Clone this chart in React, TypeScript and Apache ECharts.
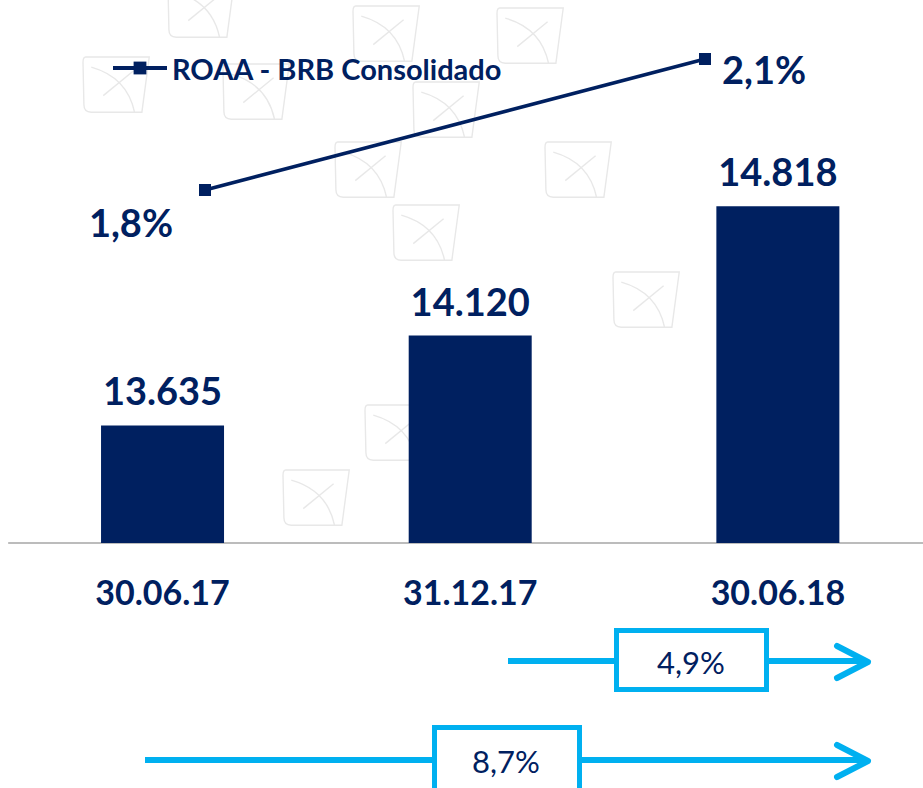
import React, { useEffect, useRef } from "react";
import * as echarts from "echarts";

const categories = ["30.06.17", "31.12.17", "30.06.18"];
const assetValues = [13635, 14120, 14818];
const roaaName = "ROAA - BRB Consolidado";
const roaaCategories = ["30.06.17", "30.06.18"];
const roaaValues = [1.8, 2.1];
const growthLabels = ["4,9%", "8,7%"];

const NAVY = "#002060";
const CYAN = "#00b0f0";

const LOGO_D =
  "M3 0 L72 0 L64 60 L9 60 Q1 60 1 52 L0 6 Q0 0 3 0 Z M9 11 Q48 22 56 60 M22 42 L55 15";

let logoRegistered = false;
function ensureLogo() {
  if (logoRegistered) return;
  echarts.graphic.registerShape("logo", echarts.graphic.extendPath(LOGO_D, {}) as any);
  logoRegistered = true;
}

const logoSpots: [number, number][] = [
  [168, -18],
  [353, 6],
  [497, 8],
  [83, 57],
  [223, 64],
  [413, 82],
  [335, 142],
  [545, 142],
  [393, 205],
  [613, 272],
  [365, 405],
  [283, 470],
];

const fmtThousands = (v: number) => String(v).replace(/\B(?=(\d{3})+(?!\d))/g, ".");
const fmtPct = (v: number) => v.toFixed(1).replace(".", ",") + "%";

export default function App() {
  const ref = useRef<HTMLDivElement>(null);

  useEffect(() => {
    if (!ref.current) return;
    ensureLogo();
    const chart = echarts.init(ref.current, undefined, { renderer: "svg" });

    const logos = logoSpots.map(([x, y]) => ({
      type: "logo",
      x,
      y,
      scaleX: 0.92,
      scaleY: 0.92,
      z: -10,
      silent: true,
      style: { fill: "none", stroke: "#e8e8e8", lineWidth: 1.5 },
    }));

    const arrow = (x1: number, x2: number, y: number) => [
      {
        type: "line",
        z: 5,
        shape: { x1, y1: y, x2, y2: y },
        style: { stroke: CYAN, lineWidth: 6 },
      },
      {
        type: "polyline",
        z: 5,
        shape: {
          points: [
            [x2 - 29, y - 15],
            [x2 + 2, y + 1],
            [x2 - 29, y + 17],
          ],
        },
        style: { stroke: CYAN, lineWidth: 6, lineCap: "round", lineJoin: "round", fill: "none" },
      },
    ];

    const box = (x: number, y: number, w: number, h: number, text: string, cx: number, cy: number) => [
      {
        type: "rect",
        z: 6,
        shape: { x, y, width: w, height: h },
        style: { fill: "#ffffff", stroke: CYAN, lineWidth: 5 },
      },
      {
        type: "text",
        z: 7,
        x: cx,
        y: cy,
        style: {
          text,
          fill: NAVY,
          font: "normal 31px Lato",
          align: "center",
          verticalAlign: "middle",
        },
      },
    ];

    chart.setOption({
      animation: false,
      backgroundColor: "#ffffff",
      textStyle: { fontFamily: "Lato" },
      legend: {
        data: [roaaName],
        left: 111,
        top: 53,
        padding: 0,
        itemWidth: 54,
        itemHeight: 16,
        itemGap: 0,
        lineStyle: { width: 4, color: NAVY },
        itemStyle: { color: NAVY },
        textStyle: {
          color: NAVY,
          fontSize: 29,
          fontWeight: "bold",
          fontFamily: "Lato",
          lineHeight: 30,
        },
      },
      grid: [
        {
          left: 8.7,
          width: 923,
          top: 43,
          bottom: 245,
          containLabel: false,
          outerBoundsMode: "none",
        },
        {
          left: 205,
          width: 500,
          top: 59,
          height: 131,
          containLabel: false,
          outerBoundsMode: "none",
        },
      ],
      xAxis: [
        {
          type: "category",
          gridIndex: 0,
          data: categories,
          axisLine: { show: true, lineStyle: { color: "#a6a6a6", width: 1.5 } },
          axisTick: { show: false },
          axisLabel: {
            color: NAVY,
            fontSize: 34,
            fontWeight: "bold",
            fontFamily: "Lato",
            margin: 31,
          },
        },
        {
          type: "category",
          gridIndex: 1,
          data: roaaCategories,
          boundaryGap: false,
          show: false,
        },
      ],
      yAxis: [
        {
          type: "value",
          gridIndex: 0,
          min: 13000,
          max: 15700,
          show: false,
          splitLine: { show: false },
        },
        {
          type: "value",
          gridIndex: 1,
          min: 1.8,
          max: 2.1,
          show: false,
          splitLine: { show: false },
        },
      ],
      series: [
        {
          type: "bar",
          name: "Ativos",
          xAxisIndex: 0,
          yAxisIndex: 0,
          data: assetValues,
          barWidth: 123,
          itemStyle: { color: NAVY },
          label: {
            show: true,
            position: "top",
            distance: 16,
            color: NAVY,
            fontSize: 38,
            fontWeight: "bold",
            fontFamily: "Lato",
            formatter: (p: any) => fmtThousands(p.value),
          },
        },
        {
          type: "line",
          name: roaaName,
          xAxisIndex: 1,
          yAxisIndex: 1,
          symbol: "rect",
          symbolSize: 12,
          z: 4,
          lineStyle: { color: NAVY, width: 3.5 },
          itemStyle: { color: NAVY },
          label: {
            show: true,
            color: NAVY,
            fontSize: 38,
            fontWeight: "bold",
            fontFamily: "Lato",
            formatter: (p: any) => fmtPct(p.value),
          },
          data: roaaValues.map((v, i) => ({
            value: v,
            label:
              i === 0
                ? { position: "bottom", offset: [-74, 2] }
                : { position: "right", offset: [6, 10] },
          })),
        },
      ],
      graphic: [
        ...logos,
        ...arrow(508, 866, 661),
        ...box(616.5, 630.5, 150, 59, growthLabels[0], 691, 662),
        ...arrow(145, 866, 760),
        ...box(434.5, 727.5, 145, 72, growthLabels[1], 506, 761),
      ],
    });

    return () => chart.dispose();
  }, []);

  return (
    <div
      ref={ref}
      style={{ position: "fixed", left: 0, top: 0, width: 923, height: 788 }}
    />
  );
}
